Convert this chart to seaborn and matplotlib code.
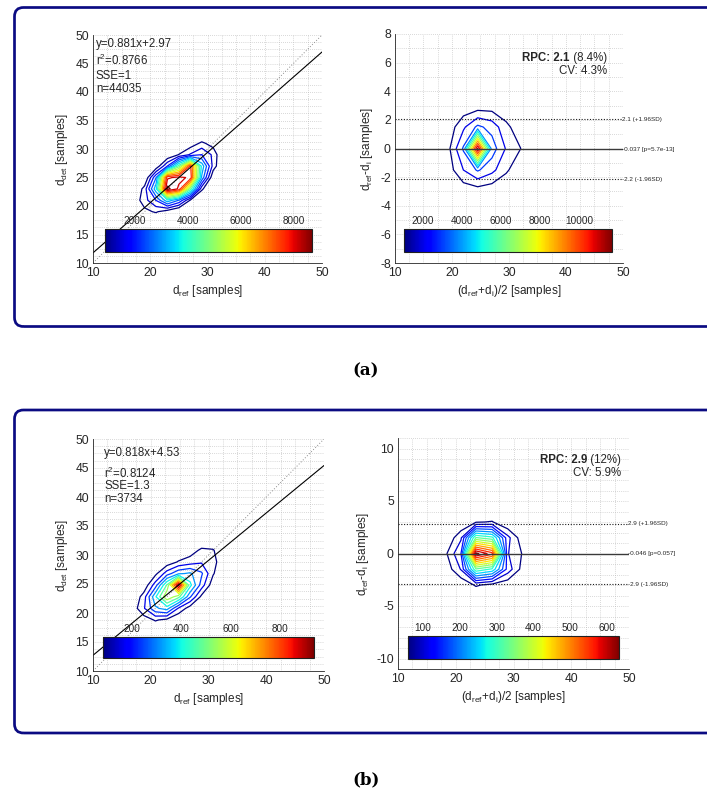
import numpy as np
import pandas as pd
import matplotlib
matplotlib.use("Agg")
import matplotlib.pyplot as plt
import seaborn as sns
from matplotlib.colors import Normalize
from matplotlib.cm import ScalarMappable
from matplotlib.patches import FancyBboxPatch
from matplotlib.ticker import MultipleLocator, AutoMinorLocator
import matplotlib.transforms as mtransforms

# ------------------------------------------------------------------ data
# Panel (a) : correlation (2-D histogram counts, rows = y ascending)
a_corr_x = [15, 17, 19, 21, 23, 25, 27, 29, 31, 33]
a_corr_y = [15, 17, 19, 21, 23, 25, 27, 29, 31, 33]
a_corr_counts = [
    [0, 0, 0, 0, 0, 0, 0, 0, 0, 0],
    [0, 0, 0, 0, 0, 0, 0, 0, 0, 0],
    [0, 0, 700, 950, 500, 0, 0, 0, 0, 0],
    [0, 400, 1200, 2000, 3500, 2500, 800, 0, 0, 0],
    [0, 100, 1100, 3500, 8900, 8000, 4500, 1000, 0, 0],
    [0, 0, 200, 2500, 8000, 8300, 8000, 3000, 300, 0],
    [0, 0, 0, 400, 2000, 4500, 7700, 3500, 1200, 0],
    [0, 0, 0, 0, 300, 900, 1500, 2000, 1300, 0],
    [0, 0, 0, 0, 0, 0, 500, 1000, 600, 0],
    [0, 0, 0, 0, 0, 0, 0, 0, 0, 0],
]
a_corr_clim = [870, 8680]
a_corr_nlev = 15
a_corr_ticks = [2000, 4000, 6000, 8000]
a_fit = [0.881, 2.97]
a_stats = ["y=0.881x+2.97", "r$^2$=0.8766", "SSE=1", "n=44035"]

# Panel (a) : Bland-Altman
a_ba_x = [17, 19.5, 22, 24.5, 27, 29.5, 32, 34.5]
a_ba_y = [-4.5, -3, -1.5, 0, 1.5, 3, 4.5]
a_ba_counts = [
    [0, 0, 0, 0, 0, 0, 0, 0],
    [0, 100, 350, 450, 300, 100, 0, 0],
    [0, 600, 2000, 3100, 2300, 1200, 300, 0],
    [0, 900, 3100, 11800, 3500, 1900, 1050, 0],
    [0, 500, 1800, 3200, 2600, 1300, 400, 0],
    [0, 50, 300, 400, 450, 200, 0, 0],
    [0, 0, 0, 0, 0, 0, 0, 0],
]
a_ba_clim = [1026, 11690]
a_ba_nlev = 12
a_ba_ticks = [2000, 4000, 6000, 8000, 10000]
a_ba_mean = -0.037
a_ba_upper = 2.06
a_ba_lower = -2.14
a_ba_labels = ["2.1 (+1.96SD)", "-0.037 [p=5.7e-13]", "-2.2 (-1.96SD)"]
a_rpc = ["RPC: 2.1", " (8.4%)", "CV: 4.3%"]

# Panel (b) : correlation
b_corr_x = [14.8, 16.8, 18.8, 20.8, 22.8, 24.8, 26.8, 28.8, 30.8, 32.8, 34.8]
b_corr_y = [14.8, 16.8, 18.8, 20.8, 22.8, 24.8, 26.8, 28.8, 30.8, 32.8, 34.8]
b_corr_counts = [
    [0, 0, 0, 0, 0, 0, 0, 0, 0, 0, 0],
    [0, 0, 0, 0, 0, 0, 0, 0, 0, 0, 0],
    [0, 0, 40, 90, 60, 0, 0, 0, 0, 0, 0],
    [0, 30, 150, 300, 350, 150, 40, 0, 0, 0, 0],
    [0, 0, 120, 380, 620, 500, 250, 60, 0, 0, 0],
    [0, 0, 20, 200, 480, 950, 420, 200, 30, 0, 0],
    [0, 0, 0, 60, 200, 300, 330, 250, 90, 0, 0],
    [0, 0, 0, 0, 30, 90, 120, 150, 110, 20, 0],
    [0, 0, 0, 0, 0, 0, 40, 100, 90, 0, 0],
    [0, 0, 0, 0, 0, 0, 0, 0, 0, 0, 0],
    [0, 0, 0, 0, 0, 0, 0, 0, 0, 0, 0],
]
b_corr_clim = [82, 938]
b_corr_nlev = 12
b_corr_ticks = [200, 400, 600, 800]
b_fit = [0.818, 4.53]
b_stats = ["y=0.818x+4.53", "r$^2$=0.8124", "SSE=1.3", "n=3734"]

# Panel (b) : Bland-Altman
b_ba_x = [15.5, 18.2, 20.9, 23.5, 26.3, 29.0, 31.7, 34.4]
b_ba_y = [-4.5, -3, -1.5, 0, 1.5, 3, 4.5]
b_ba_counts = [
    [0, 0, 0, 0, 0, 0, 0, 0],
    [0, 0, 25, 65, 45, 30, 0, 0],
    [0, 30, 100, 320, 280, 120, 40, 0],
    [0, 50, 135, 645, 570, 100, 54, 0],
    [0, 20, 90, 330, 300, 110, 30, 0],
    [0, 0, 20, 55, 62, 20, 0, 0],
    [0, 0, 0, 0, 0, 0, 0, 0],
]
b_ba_clim = [59, 632]
b_ba_nlev = 16
b_ba_ticks = [100, 200, 300, 400, 500, 600]
b_ba_mean = -0.046
b_ba_upper = 2.83
b_ba_lower = -2.93
b_ba_labels = ["2.9 (+1.96SD)", "-0.046 [p=0.057]", "-2.9 (-1.96SD)"]
b_rpc = ["RPC: 2.9", " (12%)", "CV: 5.9%"]

axis_range = [10, 50]

# ------------------------------------------------------------------ style
sns.set_theme(style="white")
plt.rcParams['font.family'] = ['Liberation Sans', 'DejaVu Sans']
plt.rcParams['mathtext.fontset'] = 'custom'
plt.rcParams['mathtext.rm'] = 'Liberation Sans'
plt.rcParams['mathtext.it'] = 'Liberation Sans:italic'
plt.rcParams['mathtext.bf'] = 'Liberation Sans:bold'
plt.rcParams['mathtext.default'] = 'regular'
plt.rcParams['axes.unicode_minus'] = False

TXT = '#262626'
W, H = 707, 791
fig = plt.figure(figsize=(W / 100, H / 100), dpi=100)
fig.patch.set_facecolor('white')
renderer = fig.canvas.get_renderer()


def px_rect(x0, x1, ytop, ybot):
    return [x0 / W, 1 - ybot / H, (x1 - x0) / W, (ybot - ytop) / H]


def style_axes(ax, ylim, ymaj, yminor_n):
    ax.set_xlim(axis_range)
    ax.set_ylim(ylim)
    ax.xaxis.set_major_locator(MultipleLocator(10))
    ax.xaxis.set_minor_locator(AutoMinorLocator(4))
    ax.yaxis.set_major_locator(MultipleLocator(ymaj))
    ax.yaxis.set_minor_locator(AutoMinorLocator(yminor_n))
    ax.grid(which='both', linestyle=(0, (1, 2)), color='#b4b4b4', linewidth=0.5)
    ax.set_axisbelow(True)
    for s in ['top', 'right']:
        ax.spines[s].set_visible(False)
    for s in ['left', 'bottom']:
        ax.spines[s].set_color(TXT)
        ax.spines[s].set_linewidth(0.6)
    ax.tick_params(which='major', direction='in', length=3, width=0.6,
                   top=False, right=False, labelsize=8.7, pad=3,
                   colors=TXT, labelcolor=TXT)
    ax.tick_params(which='minor', length=0)
    ax.set_facecolor('white')


def contours(ax, xs, ys, counts, clim, nlev):
    norm = Normalize(vmin=clim[0], vmax=clim[1])
    levels = np.linspace(clim[0], clim[1], nlev)
    ax.contour(np.array(xs), np.array(ys), np.array(counts, dtype=float),
               levels=levels, cmap='jet', norm=norm, linewidths=0.9)
    return norm


def colorbar(norm, rect_px, ticks):
    cax = fig.add_axes(px_rect(*rect_px))
    cb = fig.colorbar(ScalarMappable(norm=norm, cmap='jet'), cax=cax,
                      orientation='horizontal')
    cax.xaxis.set_ticks_position('top')
    cb.set_ticks(ticks)
    cb.set_ticklabels([str(t) for t in ticks])
    cax.tick_params(labelsize=7.2, length=2, width=0.5, direction='in', pad=2.5,
                    colors=TXT, labelcolor=TXT)
    cb.outline.set_linewidth(0.8)
    cb.outline.set_edgecolor('#202020')


def corr_panel(rect, xs, ys, counts, clim, nlev, fit, stats, cbar_rect, ticks,
               text_x, text_ys):
    ax = fig.add_axes(px_rect(*rect))
    style_axes(ax, axis_range, 5, 4)
    line_df = pd.DataFrame({'x': axis_range,
                            'ident': axis_range,
                            'fit': [fit[0] * v + fit[1] for v in axis_range]})
    sns.lineplot(data=line_df, x='x', y='ident', ax=ax, color='#8c8c8c',
                 linestyle=(0, (1, 2)), linewidth=0.7, legend=False)
    norm = contours(ax, xs, ys, counts, clim, nlev)
    sns.lineplot(data=line_df, x='x', y='fit', ax=ax, color='black',
                 linewidth=0.8, legend=False)
    ax.set_xlabel(r'd$_{\mathrm{ref}}$ [samples]', fontsize=8.5, color=TXT, labelpad=3)
    ax.set_ylabel(r'd$_{\mathrm{det}}$ [samples]', fontsize=8.5, color=TXT, labelpad=4)
    for s, ty in zip(stats, text_ys):
        ax.text(text_x, ty, s, transform=ax.transAxes, fontsize=8.3, color=TXT,
                ha='left', va='center')
    colorbar(norm, cbar_rect, ticks)
    return ax


def ba_panel(rect, ylim, ymaj, yminor, xs, ys, counts, clim, nlev, mean, up, lo,
             labels, rpc, rpc_x, rpc_ys, cbar_rect, ticks):
    ax = fig.add_axes(px_rect(*rect))
    style_axes(ax, ylim, ymaj, yminor)
    norm = contours(ax, xs, ys, counts, clim, nlev)
    line_df = pd.DataFrame({'x': axis_range, 'm': [mean, mean],
                            'u': [up, up], 'l': [lo, lo]})
    sns.lineplot(data=line_df, x='x', y='m', ax=ax, color='#3a3a3a',
                 linewidth=1.0, legend=False)
    for col in ['u', 'l']:
        sns.lineplot(data=line_df, x='x', y=col, ax=ax, color='#1a1a1a',
                     linestyle=(0, (1, 1.5)), linewidth=0.8, legend=False)
    tr = mtransforms.blended_transform_factory(ax.transAxes, ax.transData)
    for val, lab in zip([up, mean, lo], labels):
        ax.text(0.997, val, lab, transform=tr, fontsize=4.6, color=TXT,
                ha='left', va='center', clip_on=False)
    t_reg = ax.text(rpc_x, rpc_ys[0], rpc[1], transform=ax.transAxes, fontsize=8.3,
                    color=TXT, ha='right', va='center')
    bb = t_reg.get_window_extent(renderer=renderer)
    x_left = ax.transAxes.inverted().transform((bb.x0, bb.y0))[0]
    ax.text(x_left, rpc_ys[0], rpc[0], transform=ax.transAxes, fontsize=8.3,
            color=TXT, ha='right', va='center', fontweight='bold')
    ax.text(rpc_x, rpc_ys[1], rpc[2], transform=ax.transAxes, fontsize=8.3,
            color=TXT, ha='right', va='center')
    ax.set_xlabel(r'(d$_{\mathrm{ref}}$+d$_{\mathrm{i}}$)/2 [samples]', fontsize=8.5,
                  color=TXT, labelpad=3)
    ax.set_ylabel(r'd$_{\mathrm{ref}}$-d$_{\mathrm{i}}$ [samples]', fontsize=8.5,
                  color=TXT, labelpad=4)
    colorbar(norm, cbar_rect, ticks)
    return ax


# ------------------------------------------------------------------ panel (a)
corr_panel((93, 322, 35, 263), a_corr_x, a_corr_y, a_corr_counts, a_corr_clim,
           a_corr_nlev, a_fit, a_stats, (105, 312, 229, 252), a_corr_ticks,
           0.013, [0.959, 0.888, 0.821, 0.761])
ba_panel((395, 623, 34, 263), (-8, 8), 2, 2, a_ba_x, a_ba_y, a_ba_counts, a_ba_clim,
         a_ba_nlev, a_ba_mean, a_ba_upper, a_ba_lower, a_ba_labels, a_rpc, 0.93,
         [0.897, 0.838], (404, 612, 229, 252), a_ba_ticks)

# ------------------------------------------------------------------ panel (b)
corr_panel((93, 324, 439, 671), b_corr_x, b_corr_y, b_corr_counts, b_corr_clim,
           b_corr_nlev, b_fit, b_stats, (103, 314, 637, 658), b_corr_ticks,
           0.048, [0.938, 0.853, 0.799, 0.741])
ba_panel((398, 629, 438, 669), (-11, 11), 5, 5, b_ba_x, b_ba_y, b_ba_counts, b_ba_clim,
         b_ba_nlev, b_ba_mean, b_ba_upper, b_ba_lower, b_ba_labels, b_rpc, 0.965,
         [0.905, 0.847], (408, 619, 636, 659), b_ba_ticks)

# ------------------------------------------------------------------ frames & labels
navy = '#0b0b82'
for ytop, ybot in [(7.5, 326.5), (410, 733)]:
    box = FancyBboxPatch((14.5, H - ybot), 740, ybot - ytop,
                         boxstyle='round,pad=0,rounding_size=9',
                         transform=mtransforms.IdentityTransform(),
                         fill=False, edgecolor=navy, linewidth=1.95, clip_on=False)
    fig.add_artist(box)

for lab, yc in [('(a)', 371), ('(b)', 780)]:
    fig.text(366 / W, 1 - yc / H, lab, fontfamily='DejaVu Serif', fontweight='bold',
             fontsize=12, ha='center', va='center', color='black')

fig.savefig('out.png', dpi=100)
